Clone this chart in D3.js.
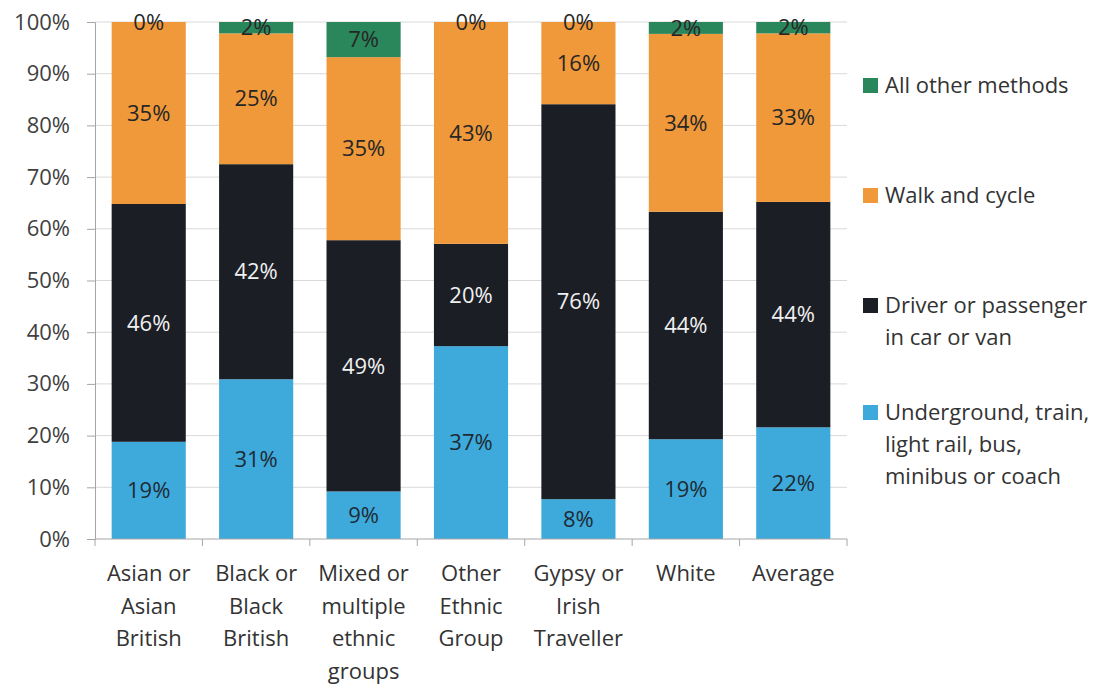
<!DOCTYPE html>
<html><head><meta charset="utf-8">
<script src="https://cdn.jsdelivr.net/npm/d3@7"></script>
<style>body{margin:0;background:#fff}svg{display:block}text{font-family:"Open Sans",Lato,sans-serif}</style>
</head><body><svg id="c" width="1102" height="684"></svg>
<script>
const categories = ["Asian or\nAsian\nBritish","Black or\nBlack\nBritish","Mixed or\nmultiple\nethnic\ngroups","Other\nEthnic\nGroup","Gypsy or\nIrish\nTraveller","White","Average"];
const seriesNames = ["Underground, train,\nlight rail, bus,\nminibus or coach","Driver or passenger\nin car or van","Walk and cycle","All other methods"];
const publicTransport = [18.8, 30.9, 9.2, 37.3, 7.7, 19.3, 21.6];
const carOrVan       = [46.0, 41.6, 48.6, 19.8, 76.4, 44.0, 43.6];
const walkCycle      = [35.2, 25.3, 35.4, 42.9, 15.9, 34.4, 32.6];
const otherMethods   = [0.0, 2.2, 6.8, 0.0, 0.0, 2.3, 2.2];
const yTicks = [0,10,20,30,40,50,60,70,80,90,100];
const colors = ["#3daadb","#1b1e25","#f0993a","#2a875b"];
const labelColors = ["#1f2a33","#f0f0f0","#262626","#262626"];

const keys = ["pt","car","walk","other"];
const rows = categories.map((c,i)=>({cat:c, pt:publicTransport[i], car:carOrVan[i], walk:walkCycle[i], other:otherMethods[i]}));
const stack = d3.stack().keys(keys)(rows);

const svg = d3.select("#c");
const L=95, R=847, T=22, B=539;
const FS = 22;
const x = d3.scaleBand().domain(categories).range([L,R]).paddingInner(0.31).paddingOuter(0.155);
const y = d3.scaleLinear().domain([0,100]).range([B,T]);

// gridlines
svg.append("g").selectAll("line").data(yTicks.filter(d=>d>0)).join("line")
  .attr("x1",L).attr("x2",R).attr("y1",d=>y(d)).attr("y2",d=>y(d))
  .attr("stroke","#d9d9d9").attr("stroke-width",1);

// y axis
const yAxis = svg.append("g").attr("transform",`translate(${L},0)`)
  .call(d3.axisLeft(y).tickValues(yTicks).tickFormat(d=>d+"%").tickSize(8).tickPadding(17));
yAxis.select(".domain").attr("stroke","#a6a6a6");
yAxis.selectAll(".tick line").attr("stroke","#a6a6a6");
yAxis.selectAll("text").attr("font-size",FS).attr("fill","#404040").attr("font-family","'Open Sans',sans-serif");

// bars
svg.append("g").selectAll("g").data(stack).join("g")
  .attr("fill",(d,i)=>colors[i])
  .selectAll("rect").data(d=>d).join("rect")
  .attr("x",d=>x(d.data.cat)).attr("width",x.bandwidth())
  .attr("y",d=>y(d[1])).attr("height",d=>y(d[0])-y(d[1]));

// x axis
svg.append("line").attr("x1",L).attr("x2",R).attr("y1",B).attr("y2",B).attr("stroke","#a6a6a6");
const step = x.step();
svg.append("g").selectAll("line").data(d3.range(categories.length+1)).join("line")
  .attr("x1",i=>L+i*step).attr("x2",i=>L+i*step).attr("y1",B).attr("y2",B+7).attr("stroke","#a6a6a6");
const xl = svg.append("g").selectAll("text").data(categories).join("text")
  .attr("x",d=>x(d)+x.bandwidth()/2).attr("y",581)
  .attr("text-anchor","middle").attr("font-size",FS).attr("fill","#333");
xl.selectAll("tspan").data(d=>d.split("\n")).join("tspan")
  .attr("x",function(){return this.parentNode.getAttribute("x");})
  .attr("dy",(d,i)=>i===0?0:32.5).text(d=>d);

// data labels
const fmt = v => Math.round(v)+"%";
stack.forEach((s,si)=>{
  svg.append("g").selectAll("text").data(s).join("text")
    .attr("x",d=>x(d.data.cat)+x.bandwidth()/2)
    .attr("y",d=>y((d[0]+d[1])/2))
    .attr("dy","0.35em").attr("text-anchor","middle").attr("font-size",FS)
    .attr("fill",labelColors[si])
    .text(d=>fmt(d[1]-d[0]));
});

// legend
const legendY = [412, 305, 195, 85];
const lg = svg.append("g").selectAll("g").data(seriesNames).join("g")
  .attr("transform",(d,i)=>`translate(863,${legendY[i]})`);
lg.append("rect").attr("x",0).attr("y",-7).attr("width",15).attr("height",15).attr("fill",(d,i)=>colors[i]);
const lt = lg.append("text").attr("x",22).attr("y",0).attr("font-size",FS).attr("fill","#333");
lt.selectAll("tspan").data(d=>d.split("\n")).join("tspan")
  .attr("x",22).attr("dy",(d,i)=>i===0?"0.35em":32).text(d=>d);
</script></body></html>
